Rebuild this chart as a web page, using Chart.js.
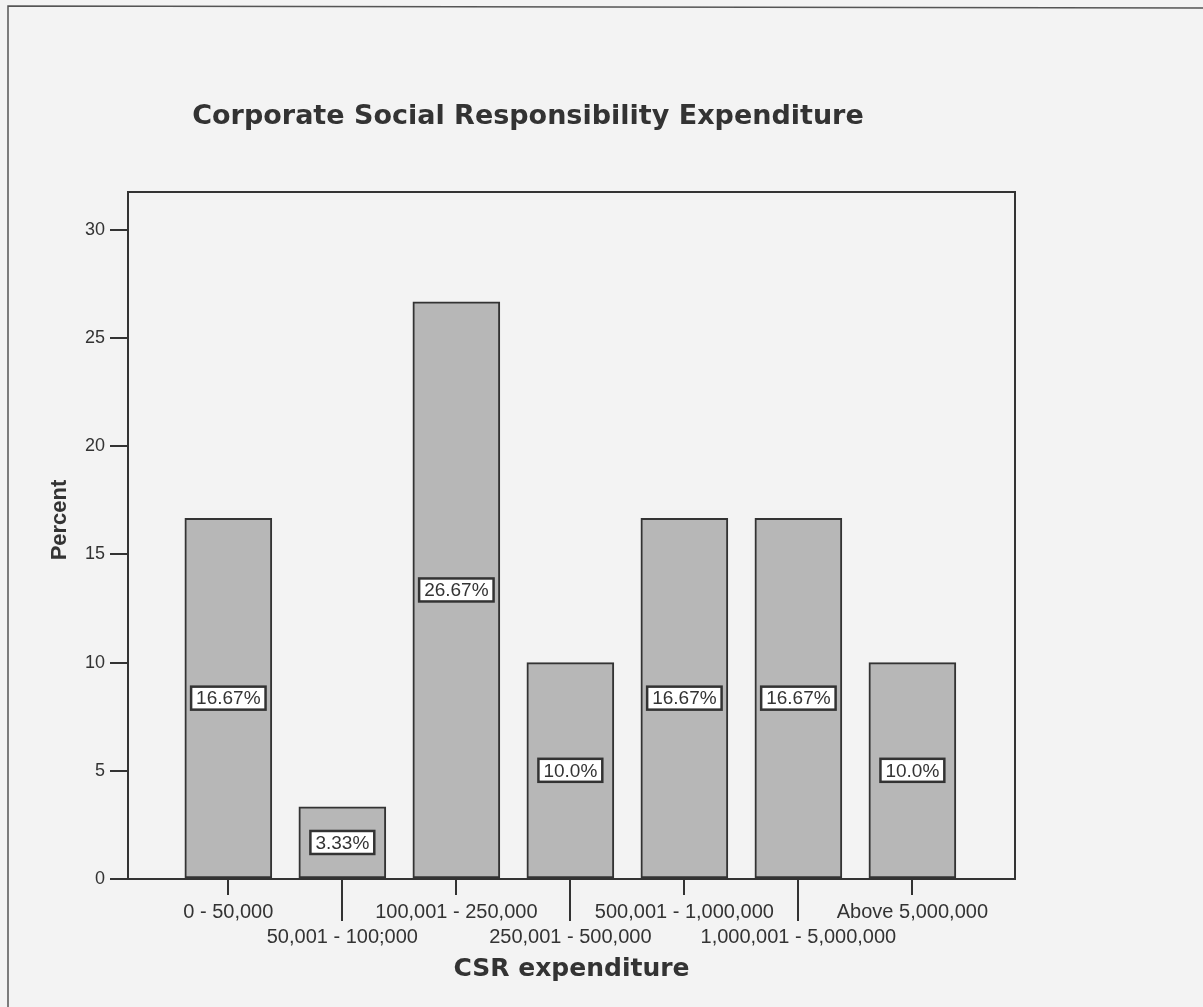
<!DOCTYPE html>
<html>
<head>
<meta charset="utf-8">
<title>Corporate Social Responsibility Expenditure</title>
<script src="https://cdn.jsdelivr.net/npm/chart.js@4/dist/chart.umd.min.js"></script>
<style>
  body { margin: 0; background: #f3f3f3; }
  canvas { display: block; }
</style>
</head>
<body>
<canvas id="csr-chart" width="1203" height="1007"></canvas>
<script>
// Chart data
const categories = [
    '0 - 50,000', '50,001 - 100;000', '100,001 - 250,000', '250,001 - 500,000',
    '500,001 - 1,000,000', '1,000,001 - 5,000,000', 'Above 5,000,000'
];
const percents = [16.67, 3.33, 26.67, 10.0, 16.67, 16.67, 10.0];
const barLabels = ['16.67%', '3.33%', '26.67%', '10.0%', '16.67%', '16.67%', '10.0%'];
const yTicks = [0, 5, 10, 15, 20, 25, 30];

const ink = '#333333';
const sans = "'Liberation Sans', Arial, sans-serif";

// paper, frame, tick marks, value boxes and titles
const spssLook = {
    id: 'spssLook',
    beforeDraw(chart) {
        const ctx = chart.ctx;
        ctx.save();
        ctx.fillStyle = '#f3f3f3';
        ctx.fillRect(0, 0, chart.width, chart.height);
        // edge of the scanned page
        ctx.strokeStyle = '#555';
        ctx.lineWidth = 1.5;
        ctx.beginPath();
        ctx.moveTo(8, chart.height);
        ctx.lineTo(8, 6);
        ctx.lineTo(chart.width, 8);
        ctx.stroke();
        ctx.restore();
    },
    afterDatasetsDraw(chart) {
        const ctx = chart.ctx;
        const area = chart.chartArea;
        const xScale = chart.scales.x;
        ctx.save();

        // plot frame
        ctx.strokeStyle = ink;
        ctx.lineWidth = 2;
        ctx.strokeRect(area.left, area.top, area.right - area.left, area.bottom - area.top);

        // x tick marks, long ones under the second label row
        categories.forEach((c, i) => {
            const x = Math.round(xScale.getPixelForValue(i));
            ctx.beginPath();
            ctx.moveTo(x, area.bottom);
            ctx.lineTo(x, area.bottom + (i % 2 ? 42 : 16));
            ctx.stroke();
        });

        // value boxes in the middle of each bar
        ctx.font = '19px ' + sans;
        ctx.textAlign = 'center';
        ctx.textBaseline = 'middle';
        chart.getDatasetMeta(0).data.forEach((bar, i) => {
            const y = (bar.y + bar.base) / 2;
            const w = ctx.measureText(barLabels[i]).width + 10;
            const h = 23;
            ctx.fillStyle = '#ffffff';
            ctx.fillRect(bar.x - w / 2, y - h / 2, w, h);
            ctx.strokeStyle = ink;
            ctx.lineWidth = 2.5;
            ctx.strokeRect(bar.x - w / 2, y - h / 2, w, h);
            ctx.fillStyle = ink;
            ctx.fillText(barLabels[i], bar.x, y + 1);
        });

        // chart title
        ctx.font = "bold 27px 'DejaVu Sans', sans-serif";
        ctx.fillStyle = ink;
        ctx.fillText('Corporate Social Responsibility Expenditure', 528, 117);

        // y axis title
        ctx.translate(60, 520);
        ctx.rotate(-Math.PI / 2);
        ctx.font = 'bold 22px ' + sans;
        ctx.fillText('Percent', 0, 0);
        ctx.restore();
    }
};

const chartOptions = {
    responsive: false,
    animation: false,
    layout: {
        padding: { top: 192, right: 188, bottom: 0, left: 0 }
    },
    scales: {
        x: {
            type: 'linear',
            offset: false,
            min: -0.88,
            max: 6.9,
            afterBuildTicks: scale => {
                scale.ticks = categories.map((c, i) => ({ value: i }));
            },
            afterFit: scale => { scale.height = 128; },
            border: { display: false },
            grid: { drawOnChartArea: false, drawTicks: false, display: true, color: 'rgba(0,0,0,0)' },
            ticks: {
                autoSkip: false,
                maxRotation: 0,
                padding: 21,
                color: ink,
                font: { family: sans, size: 20, lineHeight: '25px' },
                callback: (value) => {
                    const label = categories[value];
                    return value % 2 ? ['', label] : [label, ''];
                }
            },
            title: {
                display: true,
                text: 'CSR expenditure',
                color: ink,
                font: { family: "'DejaVu Sans', sans-serif", size: 25, weight: 'bold' },
                padding: { top: 0, bottom: 23 }
            }
        },
        y: {
            min: 0,
            max: 31.75,
            afterBuildTicks: scale => {
                scale.ticks = yTicks.map(v => ({ value: v }));
            },
            afterFit: scale => { scale.width = 128; },
            border: { display: false },
            grid: {
                drawOnChartArea: false,
                drawTicks: true,
                tickLength: 18,
                color: ink,
                lineWidth: 2
            },
            ticks: {
                padding: 5,
                color: ink,
                font: { family: sans, size: 18 }
            }
        }
    },
    plugins: {
        legend: { display: false },
        tooltip: { enabled: false }
    }
};

window.csrChart = new Chart(document.getElementById('csr-chart'), {
    type: 'bar',
    data: {
        datasets: [{
            label: 'Percent',
            data: percents.map((v, i) => ({ x: i, y: v })),
            backgroundColor: '#b7b7b7',
            borderColor: ink,
            borderWidth: 2,
            borderSkipped: false,
            barThickness: 87
        }]
    },
    options: chartOptions,
    plugins: [spssLook]
});
</script>
</body>
</html>
